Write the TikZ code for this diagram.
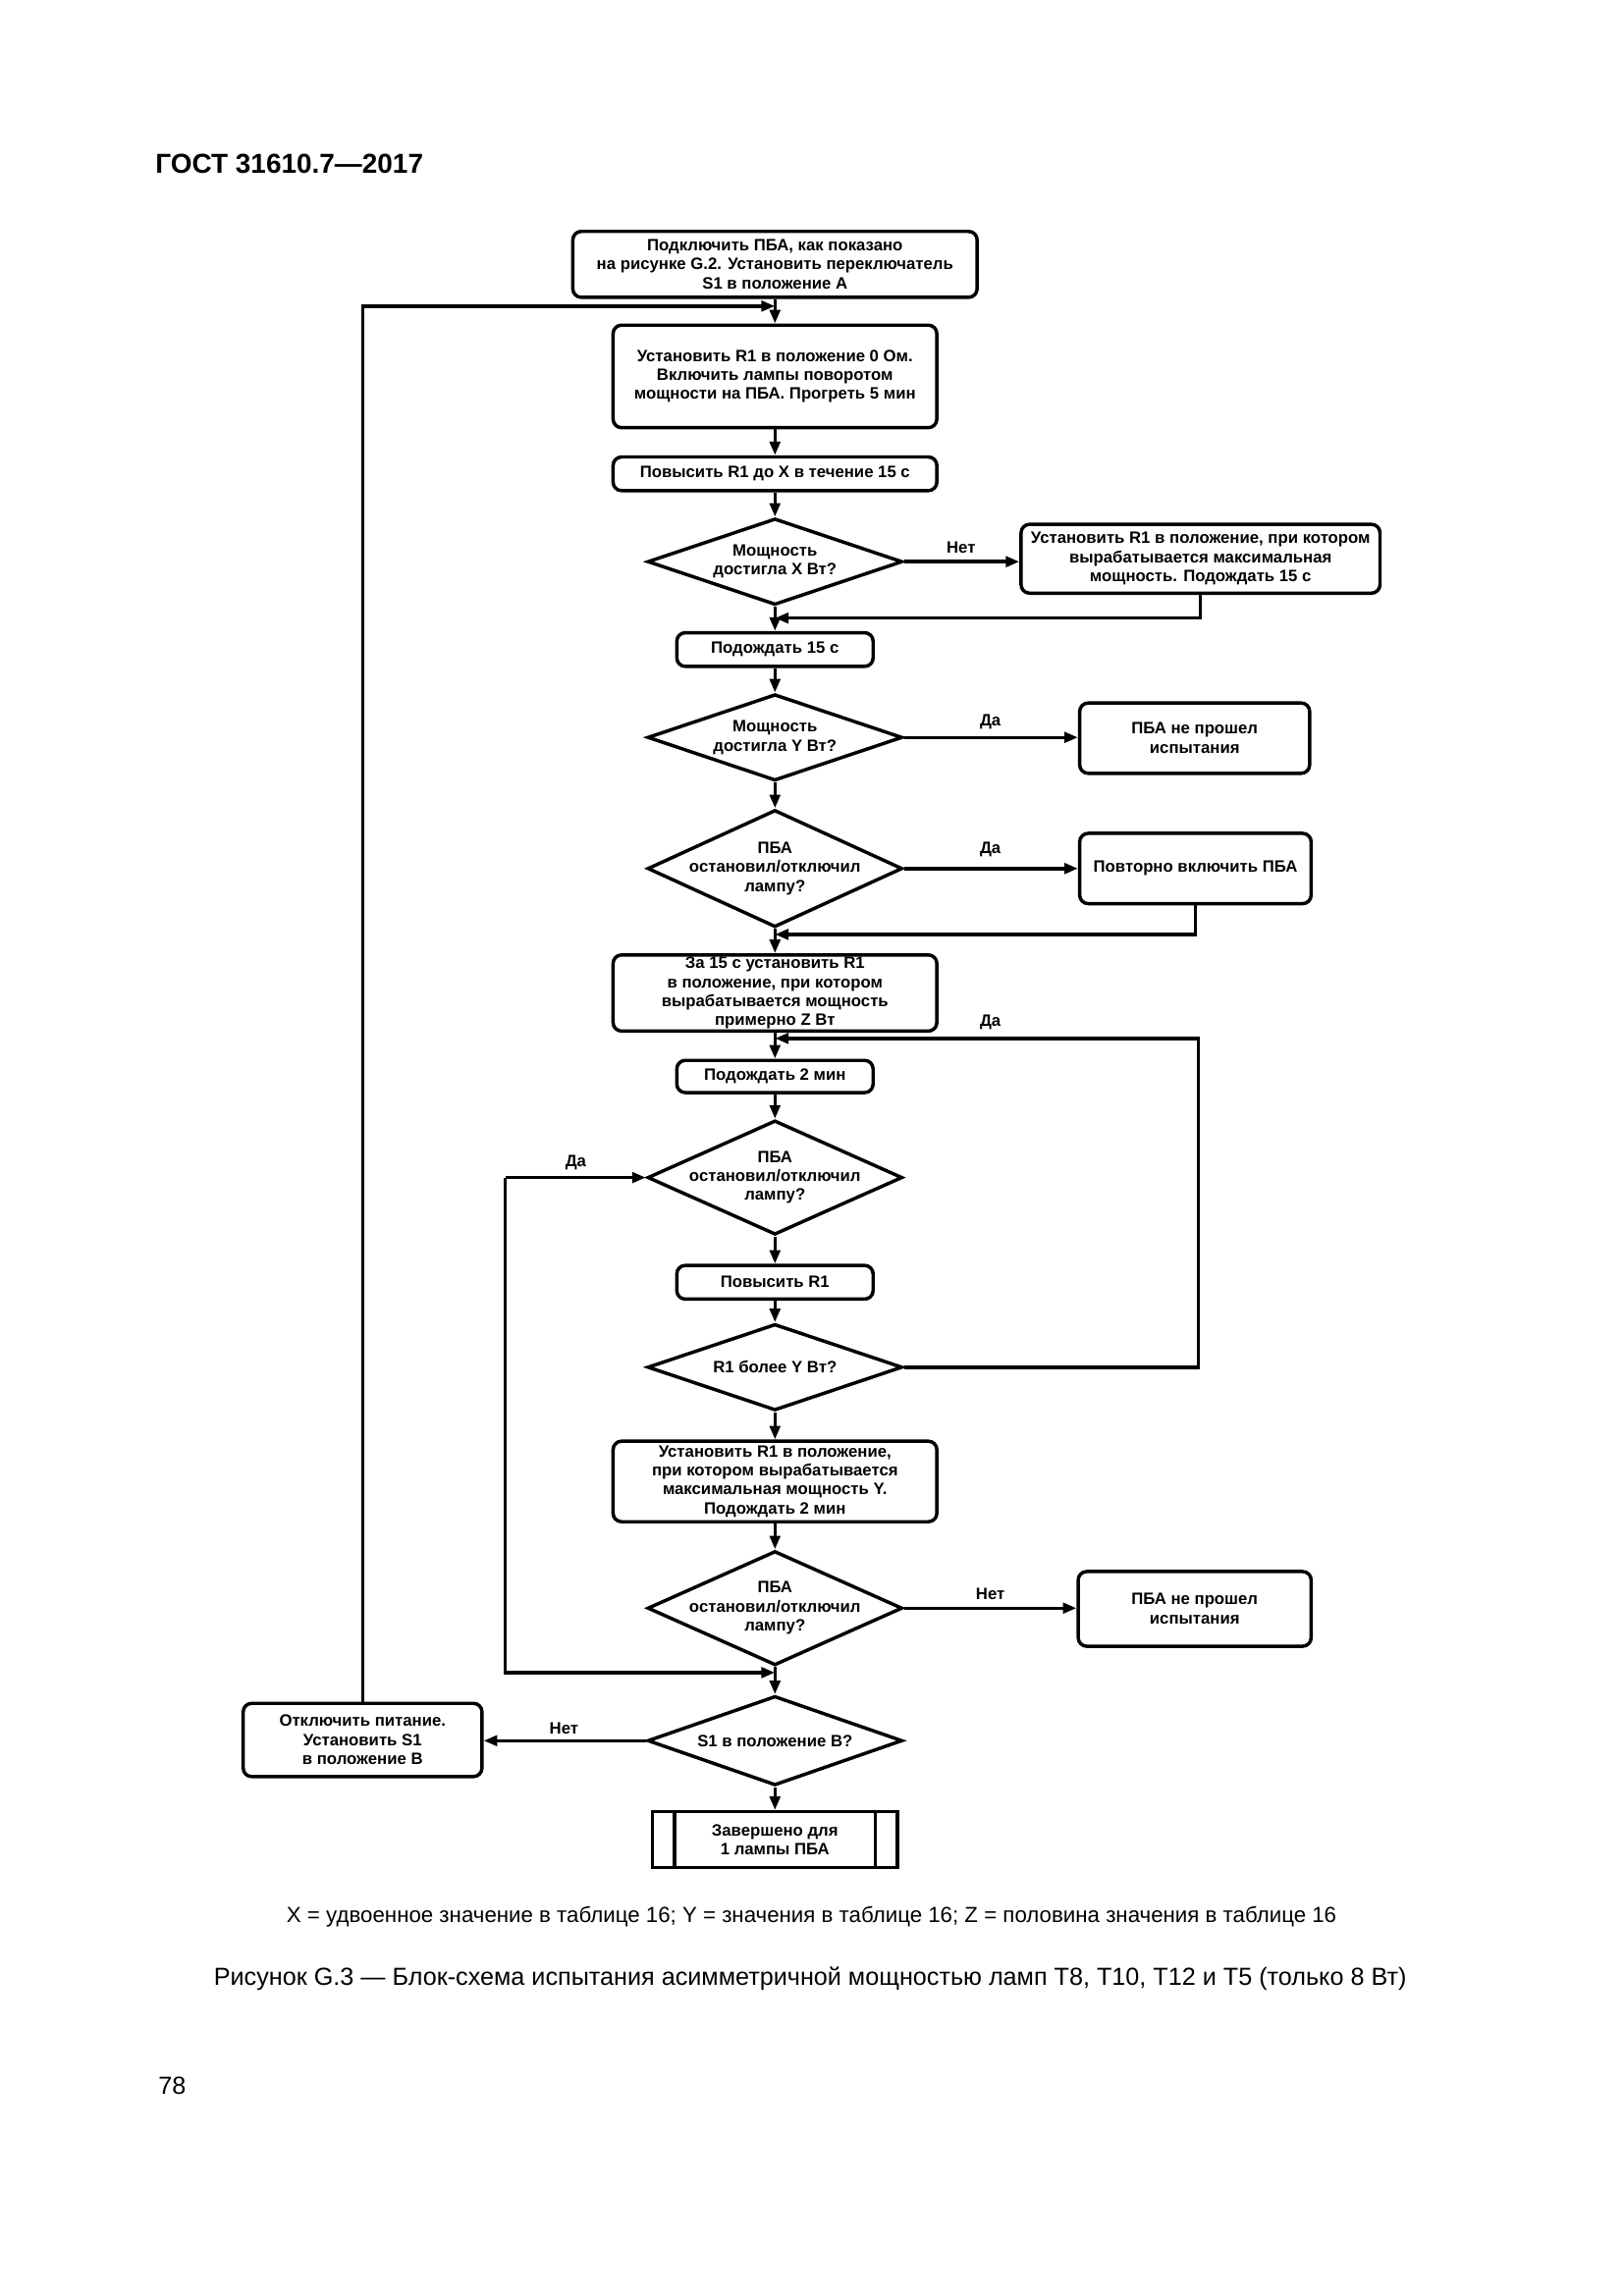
\documentclass[tikz,border=0pt]{standalone}
\usepackage{fontspec}
\setmainfont{Liberation Sans}
\usetikzlibrary{shapes.geometric,arrows.meta}
\newlength\uu \setlength\uu{0.18949mm}
\begin{document}
\begin{tikzpicture}[x=0.18949mm,y=-0.18949mm,
  line width=1.25pt,
  bfont/.style={font=\bfseries\fontsize{6.05}{7}\selectfont},
  box/.style={draw,rounded corners=1.1mm,inner sep=0pt,align=center,bfont},
  sbox/.style={draw,inner sep=0pt,align=center,bfont},
  dia/.style={draw,diamond,inner sep=0pt},
  dtext/.style={align=center,bfont},
  arr/.style={-{Triangle[length=5pt,width=3.8pt]}},
  lbl/.style={bfont,inner sep=0pt}
]
\useasboundingbox (0,0) rectangle (1108.25,1567.67);

% header
\node[anchor=west,inner sep=0pt,font=\bfseries\fontsize{10.1}{12}\selectfont] (hdr) at (105,112) {ГОСТ 31610.7—2017};

% nodes
\node[box,minimum width=276*\uu,minimum height=45*\uu] (b1) at (529,180.5) {Подключить ПБА, как показано\\на рисунке G.2. Установить переключатель\\S1 в положение А};
\node[box,minimum width=221*\uu,minimum height=70*\uu] (b2) at (529,257) {Установить R1 в положение 0 Ом.\\Включить лампы поворотом\\мощности на ПБА. Прогреть 5 мин};
\node[box,minimum width=221*\uu,minimum height=23*\uu] (b3) at (529,323.5) {Повысить R1 до X в течение 15 с};
\node[dia,minimum width=174*\uu,minimum height=59*\uu,label={[dtext]center:{Мощность\\достигла X Вт?}}] (d1) at (529,383.5) {};
\node[box,minimum width=245*\uu,minimum height=47*\uu] (b4) at (819.5,381.5) {Установить R1 в положение, при котором\\вырабатывается максимальная\\мощность. Подождать 15 с};
\node[box,minimum width=134*\uu,minimum height=23*\uu] (b5) at (529,443.5) {Подождать 15 с};
\node[dia,minimum width=174*\uu,minimum height=59*\uu,label={[dtext]center:{Мощность\\достигла Y Вт?}}] (d2) at (529,503.5) {};
\node[box,minimum width=157*\uu,minimum height=48*\uu] (b6) at (815.5,504) {ПБА не прошел\\испытания};
\node[dia,minimum width=174*\uu,minimum height=80*\uu,label={[dtext]center:{ПБА\\остановил/отключил\\лампу?}}] (d3) at (529,593) {};
\node[box,minimum width=158*\uu,minimum height=48*\uu] (b7) at (816,593) {Повторно включить ПБА};
\node[box,minimum width=221*\uu,minimum height=52*\uu] (b8) at (529,678) {За 15 с установить R1\\в положение, при котором\\вырабатывается мощность\\примерно Z Вт};
\node[box,minimum width=134*\uu,minimum height=22*\uu] (b9) at (529,735) {Подождать 2 мин};
\node[dia,minimum width=174*\uu,minimum height=78*\uu,label={[dtext]center:{ПБА\\остановил/отключил\\лампу?}}] (d4) at (529,804) {};
\node[box,minimum width=134*\uu,minimum height=23*\uu] (b10) at (529,875.5) {Повысить R1};
\node[dia,minimum width=174*\uu,minimum height=59*\uu,label={[dtext]center:{R1 более Y Вт?}}] (d5) at (529,933.5) {};
\node[box,minimum width=221*\uu,minimum height=55*\uu] (b11) at (529,1011.5) {Установить R1 в положение,\\при котором вырабатывается\\максимальная мощность Y.\\Подождать 2 мин};
\node[dia,minimum width=174*\uu,minimum height=78*\uu,label={[dtext]center:{ПБА\\остановил/отключил\\лампу?}}] (d6) at (529,1098) {};
\node[box,minimum width=159*\uu,minimum height=51*\uu] (b12) at (815.5,1098.5) {ПБА не прошел\\испытания};
\node[dia,minimum width=174*\uu,minimum height=61*\uu,label={[dtext]center:{S1 в положение B?}}] (d7) at (529,1188.5) {};
\node[box,minimum width=163*\uu,minimum height=50*\uu] (b13) at (247.5,1188) {Отключить питание.\\Установить S1\\в положение B};
\node[sbox,minimum width=167*\uu,minimum height=38*\uu] (b14) at (529,1256) {Завершено для\\1 лампы ПБА};
\draw (b14.north west) ++(16,0) -- ([xshift=16*\uu]b14.south west);
\draw (b14.north east) ++(-16,0) -- ([xshift=-16*\uu]b14.south east);

% junction coordinates
\coordinate (j1) at (529,209);
\coordinate (j2) at (529,422);
\coordinate (j3) at (529,638);
\coordinate (j4) at (529,709);
\coordinate (j5) at (529,1142);
\coordinate (c4) at (345,804);
\coordinate (c5) at (818,709);

% main column
\draw[arr] (b1) -- (b2);
\draw[arr] (b2) -- (b3);
\draw[arr] (b3) -- (d1);
\draw[arr] (d1) -- (b5);
\draw[arr] (b5) -- (d2);
\draw[arr] (d2) -- (d3);
\draw[arr] (d3) -- (b8);
\draw[arr] (b8) -- (b9);
\draw[arr] (b9) -- (d4);
\draw[arr] (d4) -- (b10);
\draw[arr] (b10) -- (d5);
\draw[arr] (d5) -- (b11);
\draw[arr] (b11) -- (d6);
\draw[arr] (d6) -- (d7);
\draw[arr] (d7) -- (b14);

% side branches
\draw[arr] (d1.east) -- (d1.east -| b4.west);
\draw[arr] (b4.south) |- (j2);
\draw[arr] (d2.east) -- (d2.east -| b6.west);
\draw[arr] (d3.east) -- (d3.east -| b7.west);
\draw[arr] (b7.south) |- (j3);
\draw[arr] (d5.east) -| (c5) -- (j4);
\draw[arr] (c4) -- (d4.west);
\draw[arr] (c4) |- (j5);
\draw[arr] (d6.east) -- (d6.east -| b12.west);
\draw[arr] (d7.west) -- (d7.west -| b13.east);
\draw[arr] (b13.north) |- (j1);

% labels
\node[lbl] (l1) at (656,374) {Нет};
\node[lbl] (l2) at (676,493) {Да};
\node[lbl] (l3) at (676,580) {Да};
\node[lbl] (l4) at (676,698) {Да};
\node[lbl] (l5) at (393,794) {Да};
\node[lbl] (l6) at (676,1088) {Нет};
\node[lbl] (l7) at (385,1180) {Нет};

% footnote and caption
\node[inner sep=0pt,font=\fontsize{8.05}{10}\selectfont] (fn) at (554,1309) {X = удвоенное значение в таблице 16; Y = значения в таблице 16; Z = половина значения в таблице 16};
\node[inner sep=0pt,font=\fontsize{9.1}{11}\selectfont] (cap) at (553,1351) {Рисунок G.3 — Блок-схема испытания асимметричной мощностью ламп Т8, Т10, Т12 и Т5 (только 8 Вт)};
\node[anchor=west,inner sep=0pt,font=\fontsize{9.1}{11}\selectfont] (pg) at (107,1424) {78};
\end{tikzpicture}
\end{document}
